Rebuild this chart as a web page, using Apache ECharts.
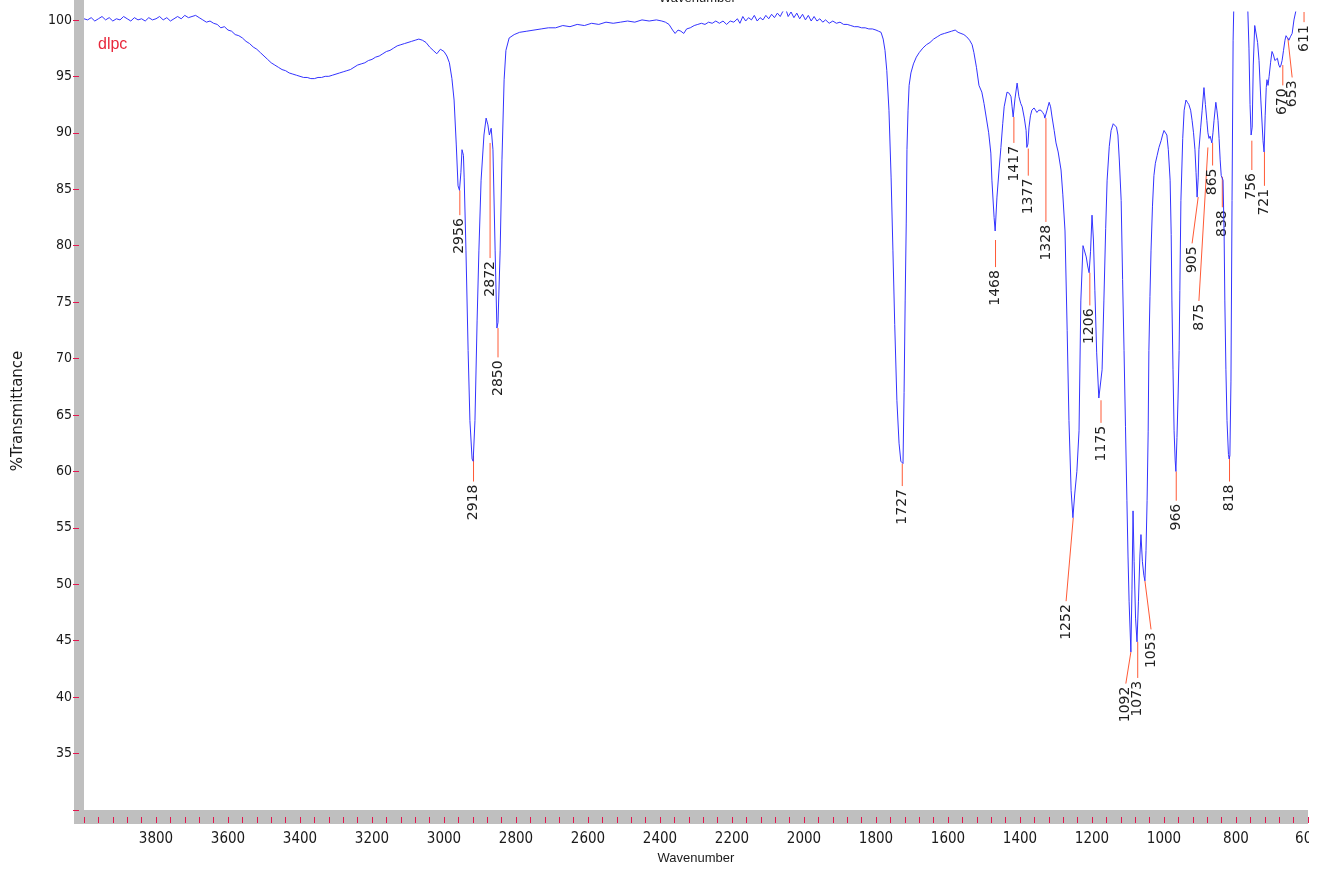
<!DOCTYPE html>
<html><head><meta charset="utf-8">
<script src="https://cdn.jsdelivr.net/npm/echarts@6/dist/echarts.min.js"></script>
<style>html,body{margin:0;padding:0;background:#fff;overflow:hidden}
#wrap{width:1337px;height:872px;background:#fff}
#chart{width:1309px;height:872px}
</style></head><body><div id="wrap"><div id="chart"></div></div>
<script>
// ---- spectrum (wavenumber cm-1, %T) ----
const wavenumbers = [
4000,3990,3980,3970,3960,3950,3940,3930,3920,3910,3900,3890,3880,3870,3860,3850,3840,3830,3820,3810,
3800,3790,3780,3770,3760,3750,3740,3730,3720,3710,3700,3690,3680,3670,3660,3650,3640,3630,3620,3610,
3600,3590,3580,3570,3560,3550,3540,3530,3520,3510,3500,3490,3480,3470,3460,3450,3440,3430,3420,3410,
3400,3390,3380,3370,3360,3350,3340,3330,3320,3310,3300,3290,3280,3270,3260,3250,3240,3230,3220,3210,
3200,3190,3180,3170,3160,3150,3140,3130,3120,3110,3100,3090,3080,3070,3060,3050,3040,3030,3020,3010,
3000,2992,2985,2978,2972,2966,2961,2957,2953,2950,2946,2944,2939,2933,2928,2922,2919,2914,2908,2903,
2897,2889,2883,2878,2874,2869,2864,2858,2853,2850,2844,2839,2833,2828,2819,2805,2790,2770,2750,2730,
2710,2690,2670,2650,2630,2610,2590,2570,2550,2530,2510,2490,2470,2450,2430,2410,2395,2385,2375,2365,
2358,2350,2342,2334,2326,2316,2305,2295,2285,2275,2265,2255,2245,2235,2225,2215,2205,2195,2185,2178,
2170,2162,2154,2146,2138,2130,2122,2114,2106,2098,2090,2082,2074,2066,2058,2050,2044,2036,2028,2020,
2012,2004,1996,1988,1980,1972,1964,1956,1948,1940,1930,1920,1910,1900,1890,1880,1870,1860,1850,1840,
1830,1820,1810,1800,1793,1786,1780,1775,1770,1764,1758,1753,1748,1742,1736,1731,1725,1722,1719,1716,
1714,1711,1708,1703,1696,1688,1680,1670,1660,1650,1640,1630,1620,1610,1600,1590,1580,1572,1564,1556,
1548,1540,1533,1528,1521,1514,1506,1500,1494,1487,1481,1478,1472,1469,1464,1458,1453,1448,1444,1436,
1430,1425,1422,1419,1414,1408,1403,1398,1394,1388,1383,1381,1378,1375,1371,1367,1361,1357,1353,1348,
1342,1337,1333,1331,1325,1319,1315,1311,1305,1300,1294,1290,1286,1281,1275,1269,1264,1258,1253,1248,
1242,1236,1231,1225,1222,1216,1212,1208,1204,1200,1196,1192,1187,1181,1177,1172,1167,1162,1158,1152,
1147,1141,1136,1132,1128,1124,1119,1115,1111,1107,1103,1100,1097,1092,1089,1086,1083,1079,1075,1071,
1067,1064,1060,1056,1053,1050,1047,1044,1042,1039,1036,1032,1028,1024,1019,1014,1008,1004,1000,996,
992,988,983,980,978,975,972,969,967,964,961,958,956,953,948,944,939,935,931,926,
922,918,914,911,908,905,903,898,894,889,885,881,878,875,872,869,867,864,861,856,
853,850,847,844,841,836,833,831,828,825,821,819,817,814,811,808,805,800,790,780,
770,767,764,761,758,755,752,748,745,740,736,731,725,722,719,716,714,711,708,704,
700,696,692,689,685,681,678,675,672,668,664,661,657,653,649,644,639,633,628,620,600
];
const transmittance = [
100.1,100.0,100.2,99.9,100.1,100.3,100.0,100.2,99.9,100.1,100.0,100.3,100.1,99.9,100.2,100.0,100.1,99.9,100.2,100.0,
100.1,100.3,100.0,100.2,99.9,100.1,100.3,100.1,100.4,100.2,100.3,100.4,100.2,100.0,99.8,99.9,99.7,99.6,99.3,99.4,
99.1,99.0,98.7,98.6,98.4,98.1,97.9,97.6,97.4,97.1,96.8,96.5,96.2,96.0,95.8,95.6,95.5,95.3,95.2,95.1,
95.0,94.9,94.9,94.8,94.8,94.9,94.9,95.0,95.0,95.1,95.2,95.3,95.4,95.5,95.6,95.8,96.0,96.1,96.2,96.4,
96.5,96.7,96.8,97.0,97.2,97.3,97.5,97.7,97.8,97.9,98.0,98.1,98.2,98.3,98.2,98.0,97.6,97.3,97.0,97.4,
97.2,96.8,96.2,94.8,92.9,89.0,85.3,84.9,86.5,88.5,88.0,86.0,79.6,70.7,64.5,61.1,60.9,64.5,73.4,79.6,
85.8,89.8,91.3,90.7,89.8,90.4,88.5,79.6,72.7,73.2,79.6,87.6,94.7,97.3,98.4,98.7,98.9,99.0,99.1,99.2,
99.3,99.3,99.5,99.4,99.6,99.5,99.7,99.6,99.8,99.7,99.8,99.9,99.8,100.0,99.9,100.0,99.9,99.8,99.6,99.1,
98.8,99.1,99.0,98.8,99.2,99.3,99.5,99.6,99.7,99.6,99.8,99.7,99.9,99.7,99.9,99.6,99.9,99.8,100.1,99.7,
100.3,99.9,100.2,100.0,100.4,99.9,100.2,100.0,100.4,100.1,100.5,100.2,100.6,100.3,100.8,100.9,100.3,100.7,100.2,100.6,
100.1,100.5,100.0,100.4,99.9,100.3,99.9,100.1,99.8,100.0,99.7,99.9,99.7,99.8,99.6,99.6,99.5,99.4,99.4,99.3,
99.3,99.2,99.2,99.1,99.0,98.9,98.3,97.3,95.5,92.0,86.0,79.6,73.0,66.3,62.5,60.9,60.7,67.0,75.1,82.0,
88.5,92.0,94.2,95.3,96.1,96.7,97.1,97.5,97.8,98.0,98.3,98.5,98.7,98.8,98.9,99.0,99.1,98.9,98.8,98.7,
98.5,98.2,97.8,97.1,95.8,94.2,93.6,92.6,91.4,90.0,88.2,85.8,82.5,81.3,84.3,86.8,88.7,90.8,92.3,93.6,
93.5,93.2,92.3,91.4,93.0,94.4,93.2,92.6,92.3,91.3,90.2,88.7,89.0,90.5,91.5,92.0,92.2,92.0,91.8,92.0,
92.0,91.8,91.6,91.3,92.0,92.7,92.3,91.4,90.2,89.1,88.3,87.5,86.7,84.5,81.3,72.5,64.5,58.3,55.9,58.0,
60.0,63.6,75.1,80.0,80.0,79.0,78.2,77.6,79.5,82.7,80.5,76.0,70.5,66.5,66.4,69.0,75.1,81.5,85.8,88.8,
90.2,90.8,90.9,90.5,89.8,87.5,84.0,77.0,70.7,64.0,57.4,52.5,48.5,44.0,49.5,56.5,52.0,47.0,44.9,48.5,
52.5,54.4,52.0,50.8,50.3,53.0,57.4,63.5,70.7,75.5,79.6,83.5,86.2,87.3,88.0,88.7,89.3,89.8,90.2,90.1,
89.8,88.5,85.8,81.0,75.1,69.0,63.6,61.0,60.0,63.0,66.5,70.7,76.0,84.0,89.5,92.0,92.9,92.7,92.5,92.0,
91.1,90.0,88.5,86.5,84.3,86.0,88.5,90.5,92.0,94.0,92.5,91.1,90.0,89.5,89.7,89.8,89.1,90.0,91.1,92.7,
92.0,91.1,89.5,87.6,86.2,85.8,81.0,75.1,69.0,64.5,61.5,61.1,61.4,68.0,84.0,98.2,103,106,106,105,
102,100.7,97.5,92.5,89.8,90.5,96.0,99.5,99.6,98.0,96.4,92.9,89.3,88.3,91.5,94.0,94.7,94.2,95.0,96.2,
97.2,96.9,96.4,96.3,96.6,96.0,95.8,96.0,96.4,97.3,98.2,98.6,98.4,98.2,98.5,98.8,100.0,100.9,103,105,105
];

// ---- peak annotations ----
const peakLabels   = ['2956','2918','2872','2850','1727','1468','1417','1377','1328','1206','1175','1252','1092','1073','1053','966','905','875','865','838','818','756','721','670','653','611'];
const leaderTopWn  = [2956,2918,2872,2850,1727,1468,1417,1377,1328,1206,1175,1252,1092,1073,1053,966,905,878,865,838,818,756,721,670,656,611];
const leaderTopT   = [84.9,61.4,89.1,72.7,60.7,80.5,91.4,88.6,91.3,77.6,66.3,55.9,44.0,44.9,50.3,60.0,84.3,88.7,89.1,86.1,61.4,89.3,88.3,96.0,98.4,100.7];
const leaderEndWn  = [2956,2918,2872,2850,1727,1468,1417,1377,1328,1206,1175,1272,1106,1073,1036,966,922,903,865,838,818,756,721,670,644,611];
const leaderEndT   = [82.7,59.1,78.9,70.1,58.7,78.1,89.1,86.2,82.1,74.7,64.3,48.5,41.2,41.7,46.0,57.4,80.2,75.1,87.1,83.4,59.1,86.7,85.3,94.2,94.9,99.8];

// ---- axis ticks ----
const xTickValues = [3800,3600,3400,3200,3000,2800,2600,2400,2200,2000,1800,1600,1400,1200,1000,800,600];
const xTickStep = 40; // small red ticks in the bottom bar every 40 cm-1
const xTickMarks = [];
for (let v = 600; v <= 4000; v += xTickStep) xTickMarks.push(v);
const yTickValues = [35,40,45,50,55,60,65,70,75,80,85,90,95,100];
const yTickMarks  = [30,35,40,45,50,55,60,65,70,75,80,85,90,95,100];

const chart = echarts.init(document.getElementById('chart'), null, {renderer: 'canvas'});
const AX = '#bfbfbf', RED = '#e3174f', INK = '#1a1a1a';
const narrow = "'Liberation Sans Narrow','Arial Narrow','DejaVu Sans Condensed','Roboto Condensed',sans-serif";

const option = {
  animation: false,
  backgroundColor: '#ffffff',
  grid: {left: 84, right: 1, top: 12, bottom: 62, containLabel: false, outerBoundsMode: 'none'},
  xAxis: {
    type: 'value', inverse: true, min: 600, max: 4000, interval: 200,
    offset: 7,
    name: 'Wavenumber', nameLocation: 'middle', nameGap: 35,
    nameTextStyle: {fontFamily: 'Liberation Sans', fontSize: 13, color: INK},
    axisLine: {show: true, onZero: false, lineStyle: {color: AX, width: 14, cap: 'butt'}},
    axisTick: {show: true, customValues: xTickMarks, inside: false, length: 6, lineStyle: {color: RED, width: 1}},
    minorTick: {show: false},
    axisLabel: {customValues: xTickValues, margin: 15, fontFamily: narrow, fontSize: 15, color: INK,
                formatter: v => String(v), hideOverlap: false},
    splitLine: {show: false}, minorSplitLine: {show: false}
  },
  yAxis: {
    type: 'value', min: 30, max: 100.7,
    offset: 5,
    name: '%Transmittance', nameLocation: 'middle', nameGap: 53, nameRotate: 90,
    nameTextStyle: {fontFamily: 'DejaVu Sans', fontSize: 15, color: INK},
    axisLine: {show: true, onZero: false, lineStyle: {color: AX, width: 10, cap: 'butt'}},
    axisTick: {show: true, customValues: yTickMarks, inside: false, length: 6, lineStyle: {color: RED, width: 1}},
    axisLabel: {customValues: yTickValues, margin: 7, fontFamily: narrow, fontSize: 14, color: INK,
                formatter: v => String(v)},
    splitLine: {show: false}
  },
  graphic: [
    {type: 'rect', left: 74, top: 0, shape: {width: 10, height: 12}, style: {fill: AX}, silent: true},
    {type: 'rect', left: 74, top: 810, shape: {width: 10, height: 14}, style: {fill: AX}, silent: true},
    {type: 'text', left: 98, top: 37, style: {text: 'dlpc', fill: '#e8283c', font: '16px "Liberation Sans"'}},
    {type: 'text', left: 659, top: -8, style: {text: 'Wavenumber', fill: INK, font: '13px "Liberation Sans"'}}
  ],
  series: [
    {
      type: 'line', name: 'dlpc',
      data: wavenumbers.map((w, i) => [w, transmittance[i]]),
      showSymbol: false, symbol: 'none', clip: true, z: 3,
      lineStyle: {color: '#3333ff', width: 1}
    },
    {
      type: 'custom', z: 2, clip: false,
      data: peakLabels.map((s, i) => [leaderTopWn[i], leaderTopT[i], leaderEndWn[i], leaderEndT[i]]),
      encode: {x: [0, 2], y: [1, 3]},
      renderItem: function (params, api) {
        const p1 = api.coord([api.value(0), api.value(1)]);
        const p2 = api.coord([api.value(2), api.value(3)]);
        return {
          type: 'group',
          children: [
            {type: 'line', shape: {x1: p1[0], y1: p1[1], x2: p2[0], y2: p2[1]},
             style: {stroke: '#ff5a36', lineWidth: 1}},
            {type: 'text', x: p2[0], y: p2[1] + 3, rotation: Math.PI / 2,
             style: {text: peakLabels[params.dataIndex], fill: '#222', font: '14px "DejaVu Sans"',
                     align: 'right', verticalAlign: 'middle'}}
          ]
        };
      }
    }
  ]
};
chart.setOption(option);
</script></body></html>
